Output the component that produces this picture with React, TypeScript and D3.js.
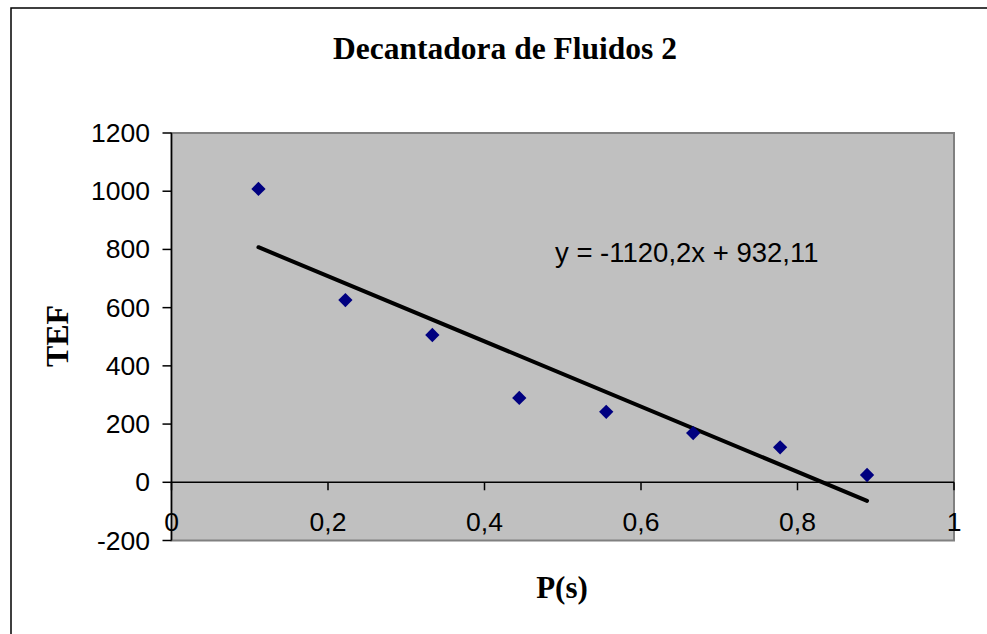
import React from "react";
import * as d3 from "d3";

const xValues = [1 / 9, 2 / 9, 3 / 9, 4 / 9, 5 / 9, 6 / 9, 7 / 9, 8 / 9];
const yValues = [1008, 626, 506, 290, 242, 169, 120, 25];
const xTicks = [0, 0.2, 0.4, 0.6, 0.8, 1];
const yTicks = [-200, 0, 200, 400, 600, 800, 1000, 1200];
const slope = -1120.2;
const intercept = 932.11;
const title = "Decantadora de Fluidos 2";
const xLabel = "P(s)";
const yLabel = "TEF";
const equation = "y = -1120,2x + 932,11";

const W = 987;
const H = 634;
const plot = { left: 171.5, right: 954, top: 133, bottom: 540.5 };

export default function App() {
  const x = d3.scaleLinear().domain([0, 1]).range([plot.left, plot.right]);
  const y = d3.scaleLinear().domain([-200, 1200]).range([plot.bottom, plot.top]);
  const fmt = (v: number) => String(v).replace(".", ",");
  const x0 = xValues[0];
  const x1 = xValues[xValues.length - 1];
  const trend = d3.line<number>().x((d) => x(d)).y((d) => y(slope * d + intercept))([x0, x1]) || "";
  const diamond = d3.symbol().type(d3.symbolDiamond2).size(130)() || "";
  const sans = "Liberation Sans, Arial, sans-serif";
  const serif = "Liberation Serif, Times New Roman, serif";

  return (
    <svg width={W} height={H} style={{ position: "absolute", left: 0, top: 0, background: "#fff" }}>
      <rect x={11} y={8} width={1000} height={660} fill="#fff" stroke="#000" strokeWidth={1.5} />
      <text x={505} y={59} textAnchor="middle" fontFamily={serif} fontWeight="bold" fontSize={31.5}>
        {title}
      </text>
      <rect x={plot.left} y={plot.top} width={plot.right - plot.left} height={plot.bottom - plot.top} fill="#C0C0C0" stroke="#808080" strokeWidth={2} />
      <line x1={plot.left} x2={plot.left} y1={plot.top} y2={plot.bottom} stroke="#000" strokeWidth={1.5} />
      {yTicks.map((t) => (
        <g key={"y" + t}>
          <line x1={plot.left - 9} x2={plot.left} y1={y(t)} y2={y(t)} stroke="#000" strokeWidth={1.5} />
          <text x={150} y={y(t) + 9} textAnchor="end" fontFamily={sans} fontSize={26.5}>
            {fmt(t)}
          </text>
        </g>
      ))}
      <line x1={plot.left} x2={plot.right} y1={y(0)} y2={y(0)} stroke="#000" strokeWidth={1.5} />
      {xTicks.map((t) => (
        <g key={"x" + t}>
          <line x1={x(t)} x2={x(t)} y1={y(0)} y2={y(0) + 8} stroke="#000" strokeWidth={1.5} />
          <text x={x(t)} y={531} textAnchor="middle" fontFamily={sans} fontSize={26.5}>
            {fmt(t)}
          </text>
        </g>
      ))}
      <path d={trend} stroke="#000" strokeWidth={4} strokeLinecap="round" fill="none" />
      {xValues.map((xv, i) => (
        <path key={"p" + i} d={diamond} transform={`translate(${x(xv)},${y(yValues[i])})`} fill="#000080" />
      ))}
      <text x={555} y={262} fontFamily={sans} fontSize={27.5}>
        {equation}
      </text>
      <text x={562} y={598} textAnchor="middle" fontFamily={serif} fontWeight="bold" fontSize={31}>
        {xLabel}
      </text>
      <text transform="translate(68,336) rotate(-90)" textAnchor="middle" fontFamily={serif} fontWeight="bold" fontSize={32}>
        {yLabel}
      </text>
    </svg>
  );
}
